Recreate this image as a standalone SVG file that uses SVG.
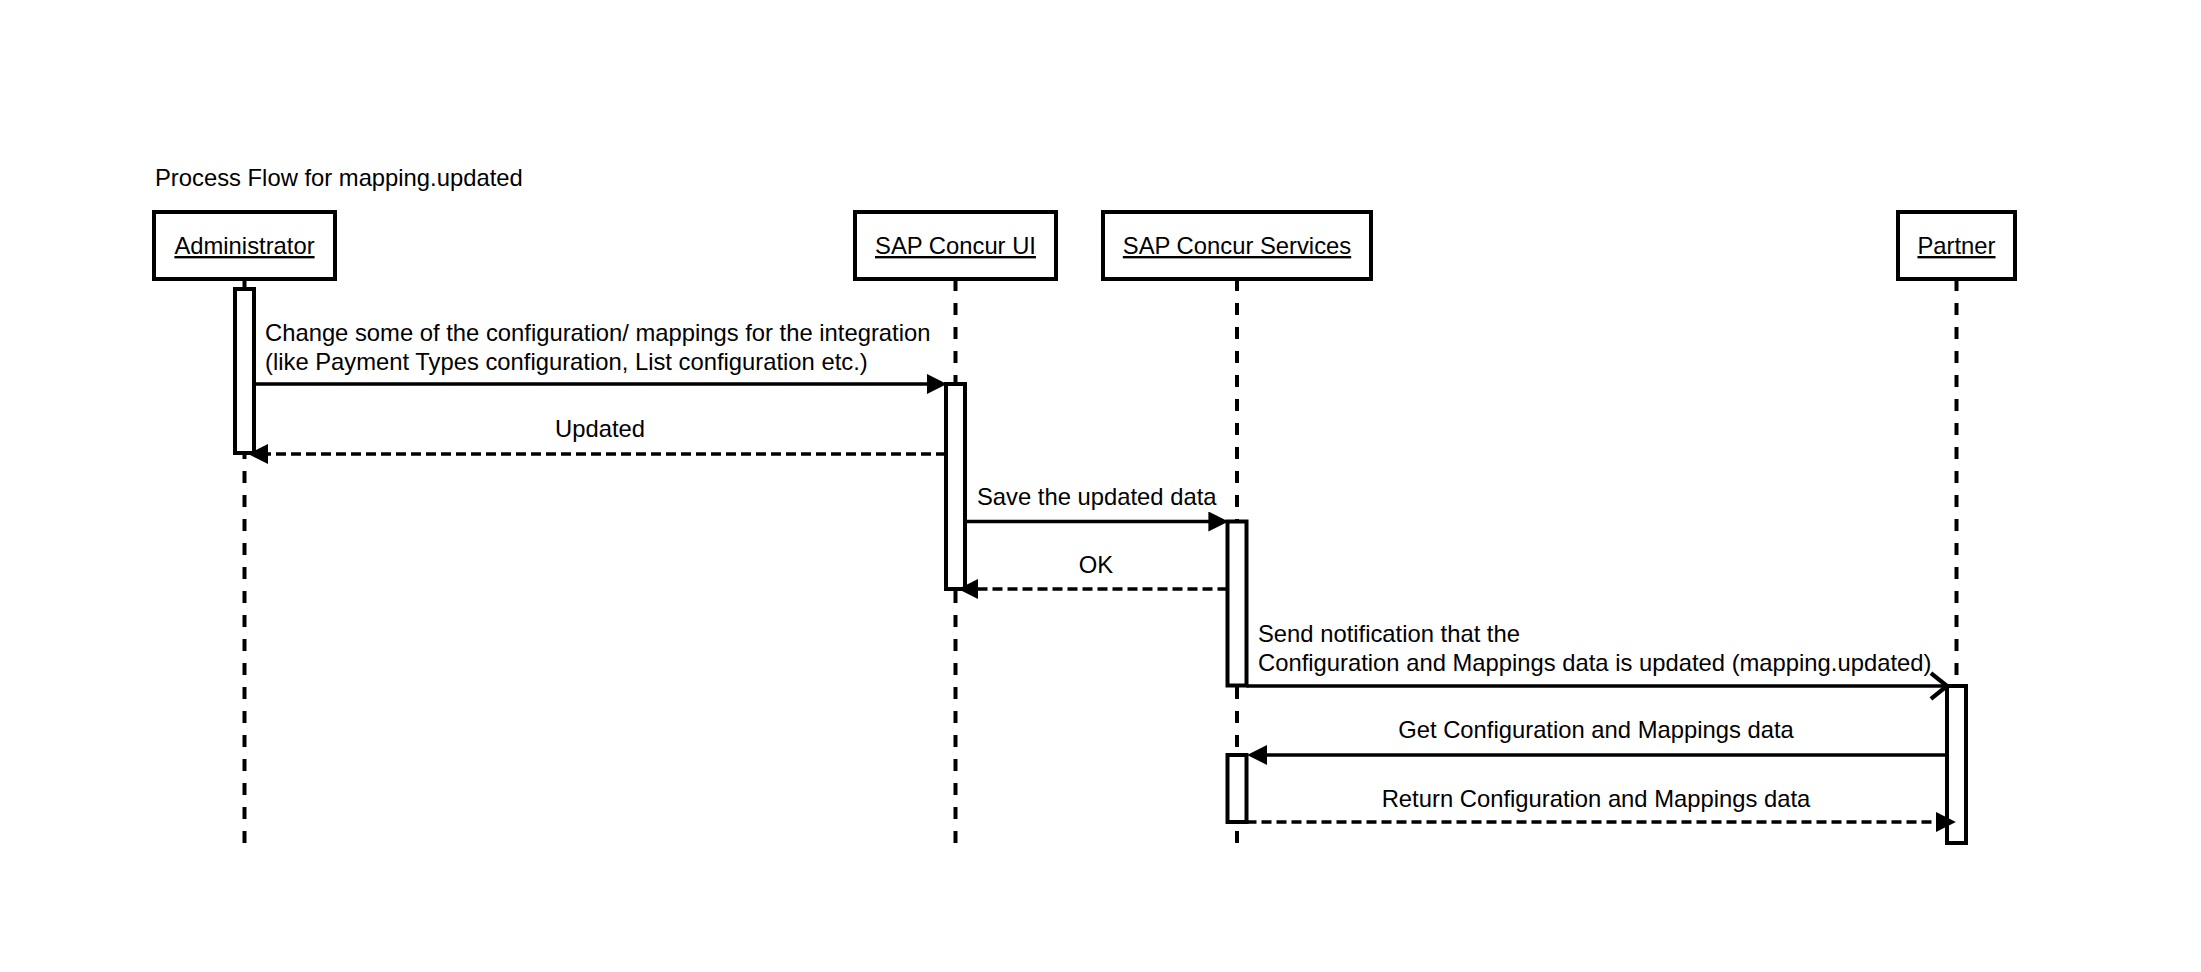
<svg xmlns="http://www.w3.org/2000/svg" width="2201" height="972" viewBox="0 0 2201 972">
<style>
text{font-family:"Liberation Sans",Arial,Helvetica,sans-serif;font-size:23.8px;fill:#000}
.box{fill:#fff;stroke:#000;stroke-width:4}
.life{stroke:#000;stroke-width:4;stroke-dasharray:12 12;fill:none}
.act{fill:#fff;stroke:#000;stroke-width:4}
.msg{stroke:#000;stroke-width:3.5;fill:none}
.ret{stroke:#000;stroke-width:3.5;fill:none;stroke-dasharray:10 5}
.lbl{text-decoration:underline;text-anchor:middle}
.mid{text-anchor:middle}
</style>
<defs>
<marker id="block" markerUnits="userSpaceOnUse" markerWidth="20" markerHeight="20" viewBox="0 0 18 18" refX="10" refY="9" orient="auto">
<path d="M0,0 L18,9 L0,18 Z" fill="#000"/>
</marker>
<marker id="open" markerUnits="userSpaceOnUse" markerWidth="24" markerHeight="30" viewBox="-2 -2 22 28" refX="15" refY="12" orient="auto">
<path d="M0,0 L15,12 L0,24" fill="none" stroke="#000" stroke-width="4"/>
</marker>
</defs>
<rect width="2201" height="972" fill="#fff"/>
<text x="155" y="186">Process Flow for mapping.updated</text>
<g id="lifelines">
<line class="life" x1="244.5" y1="279" x2="244.5" y2="843"/>
<line class="life" x1="955.5" y1="279" x2="955.5" y2="843"/>
<line class="life" x1="1237" y1="279" x2="1237" y2="843"/>
<line class="life" x1="1956.5" y1="279" x2="1956.5" y2="843"/>
</g>
<g id="administrator">
<rect class="box" x="154" y="212" width="181" height="67"/>
<text class="lbl" x="244.5" y="254">Administrator</text>
<rect class="act" x="235" y="289" width="19" height="164"/>
</g>
<g id="sap-concur-ui">
<rect class="box" x="855" y="212" width="201" height="67"/>
<text class="lbl" x="955.5" y="254">SAP Concur UI</text>
<rect class="act" x="946" y="384" width="19" height="205"/>
</g>
<g id="sap-concur-services">
<rect class="box" x="1103" y="212" width="268" height="67"/>
<text class="lbl" x="1237" y="254">SAP Concur Services</text>
<rect class="act" x="1227.5" y="521.5" width="19" height="164"/>
<rect class="act" x="1227.5" y="755" width="19" height="67"/>
</g>
<g id="partner">
<rect class="box" x="1898" y="212" width="117" height="67"/>
<text class="lbl" x="1956.5" y="254">Partner</text>
<rect class="act" x="1947" y="686" width="19" height="157"/>
</g>
<g id="connectors">
<line class="msg" x1="254" y1="384" x2="938" y2="384" marker-end="url(#block)"/>
<text x="265" y="341">Change some of the configuration/ mappings for the integration</text>
<text x="265" y="370">(like Payment Types configuration, List configuration etc.)</text>
<line class="ret" x1="946" y1="454" x2="257" y2="454" marker-end="url(#block)"/>
<text class="mid" x="600" y="437">Updated</text>
<line class="msg" x1="965" y1="521.5" x2="1219.5" y2="521.5" marker-end="url(#block)"/>
<text x="977" y="505">Save the updated data</text>
<line class="ret" x1="1227.5" y1="589" x2="967" y2="589" marker-end="url(#block)"/>
<text class="mid" x="1096" y="573">OK</text>
<line class="msg" x1="1246.5" y1="686" x2="1947" y2="686" marker-end="url(#open)"/>
<text x="1258" y="642">Send notification that the</text>
<text x="1258" y="671">Configuration and Mappings data is updated (mapping.updated)</text>
<line class="msg" x1="1947" y1="755" x2="1256" y2="755" marker-end="url(#block)"/>
<text class="mid" x="1596" y="738">Get Configuration and Mappings data</text>
<line class="ret" x1="1246.5" y1="822" x2="1947" y2="822" marker-end="url(#block)"/>
<text class="mid" x="1596" y="807">Return Configuration and Mappings data</text>
</g>
</svg>
